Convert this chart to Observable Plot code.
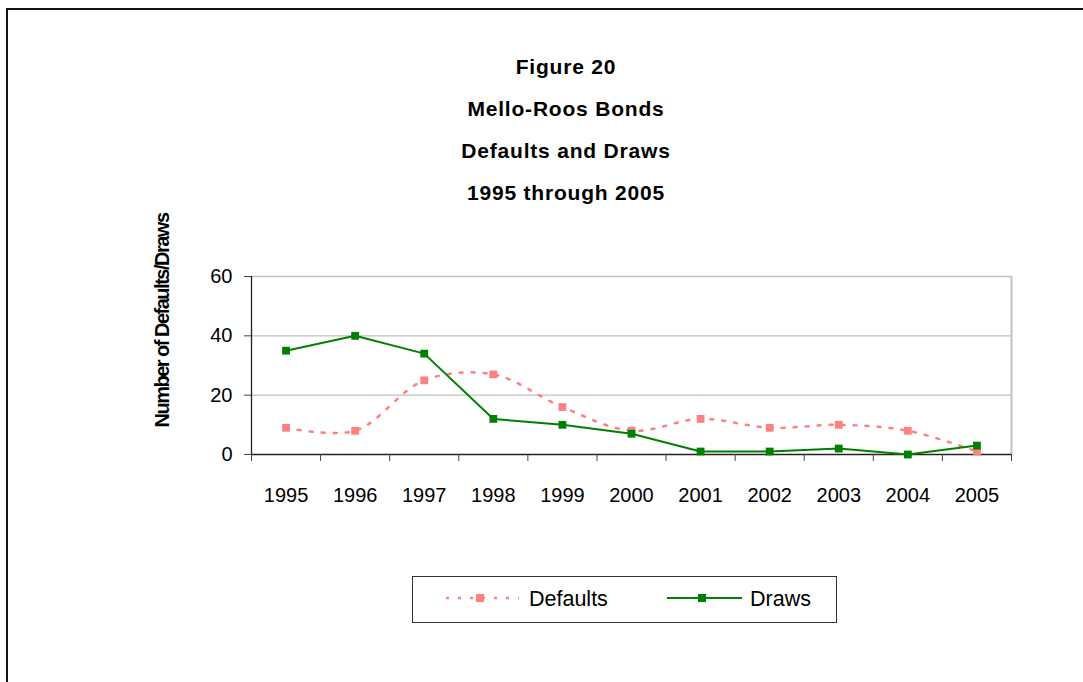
<!DOCTYPE html>
<html>
<head>
<meta charset="utf-8">
<script src="https://cdn.jsdelivr.net/npm/d3@7"></script>
<script src="https://cdn.jsdelivr.net/npm/@observablehq/plot@0.6"></script>
<style>
  html, body { margin: 0; padding: 0; background: #fff; }
  #wrap { position: relative; width: 1083px; height: 682px; overflow: hidden; font-family: "Liberation Sans", Arial, sans-serif; color: #000; }
  #border { position: absolute; left: 6px; top: 8px; width: 2000px; height: 2000px; border-left: 2px solid #111; border-top: 2px solid #111; }
  .title { position: absolute; left: 366px; width: 400px; text-align: center; font-size: 21px; font-weight: bold; line-height: 42px; white-space: nowrap; letter-spacing: 0.8px; }
  #chart { position: absolute; left: 0; top: 200px; }
  #chart g[aria-label="text"] text { letter-spacing: -1.5px; }
  #legend { position: absolute; left: 412px; top: 576px; width: 423px; height: 45px; border: 1px solid #333; background: #fff; }
  #legend svg { position: absolute; left: 0; top: 0; }
</style>
</head>
<body>
<div id="wrap">
  <div id="border"></div>
  <div class="title" style="top:46px">Figure 20</div>
  <div class="title" style="top:88px">Mello-Roos Bonds</div>
  <div class="title" style="top:130px">Defaults and Draws</div>
  <div class="title" style="top:172px">1995 through 2005</div>
  <div id="chart"></div>
  <div id="legend"></div>
</div>
<script>
const years = [1995, 1996, 1997, 1998, 1999, 2000, 2001, 2002, 2003, 2004, 2005];
const defaults = [9, 8, 25, 27, 16, 8, 12, 9, 10, 8, 1];
const draws = [35, 40, 34, 12, 10, 7, 1, 1, 2, 0, 3];
const yTicks = [0, 20, 40, 60];
const seriesNames = ["Defaults", "Draws"];
const yLabel = "Number of Defaults/Draws";

const defaultsData = years.map((year, i) => ({year, value: defaults[i]}));
const drawsData = years.map((year, i) => ({year, value: draws[i]}));
const boundaries = [years[0] - 0.5, ...years.map(y => y + 0.5)];

const pink = "#ff8080";
const green = "#008000";

const chart = Plot.plot({
  width: 1083,
  height: 340,
  marginLeft: 251,
  marginRight: 72,
  marginTop: 76,
  marginBottom: 86,
  style: {fontFamily: "'Liberation Sans', Arial, sans-serif", fontSize: "20px", color: "#000", background: "transparent", overflow: "visible"},
  x: {type: "linear", domain: [years[0] - 0.5, years[years.length - 1] + 0.5]},
  y: {domain: [0, 60]},
  marks: [
    Plot.ruleY([20, 40, 60], {stroke: "#c0c0c0", strokeWidth: 1.3}),
    Plot.ruleX([boundaries[boundaries.length - 1]], {stroke: "#c0c0c0", strokeWidth: 2}),
    Plot.ruleX([boundaries[0]], {stroke: "#222", strokeWidth: 1.3}),
    Plot.ruleY([0], {stroke: "#222", strokeWidth: 1.3}),
    Plot.axisY({ticks: yTicks, tickSize: 7, tickPadding: 12, label: null, fontSize: 20, stroke: "#444"}),
    Plot.axisX({ticks: boundaries, tickSize: 7, tickFormat: () => "", label: null, stroke: "#444"}),
    Plot.axisX({ticks: years, tickSize: 0, tickPadding: 33, tickFormat: d => String(d), label: null, fontSize: 20}),
    Plot.text([yLabel], {frameAnchor: "left", textAnchor: "middle", dx: -89, dy: -45, rotate: -90, fontWeight: "bold", fontSize: 20, fill: "#000"}),
    Plot.line(defaultsData, {x: "year", y: "value", stroke: pink, strokeWidth: 2.5, strokeDasharray: "3,9", curve: "catmull-rom"}),
    Plot.dot(defaultsData, {x: "year", y: "value", symbol: "square", r: 4.4, fill: pink, stroke: "none"}),
    Plot.line(drawsData, {x: "year", y: "value", stroke: green, strokeWidth: 2}),
    Plot.dot(drawsData, {x: "year", y: "value", symbol: "square", r: 4.4, fill: green, stroke: "none"})
  ]
});
document.getElementById("chart").appendChild(chart);

// Legend
const leg = d3.select("#legend").append("svg").attr("width", 423).attr("height", 45);
const items = [
  {name: seriesNames[0], color: pink, dash: "3,9", width: 2.5, x1: 33, x2: 106, mx: 67, tx: 116},
  {name: seriesNames[1], color: green, dash: null, width: 2, x1: 254, x2: 329, mx: 289, tx: 337}
];
items.forEach(it => {
  leg.append("line").attr("x1", it.x1).attr("x2", it.x2).attr("y1", 21).attr("y2", 21)
    .attr("stroke", it.color).attr("stroke-width", it.width).attr("stroke-dasharray", it.dash);
  leg.append("rect").attr("x", it.mx - 4).attr("y", 17).attr("width", 8).attr("height", 8).attr("fill", it.color);
  leg.append("text").attr("x", it.tx).attr("y", 29).attr("font-size", 21.5)
    .attr("font-family", "'Liberation Sans', Arial, sans-serif").text(it.name);
});
</script>
</body>
</html>
